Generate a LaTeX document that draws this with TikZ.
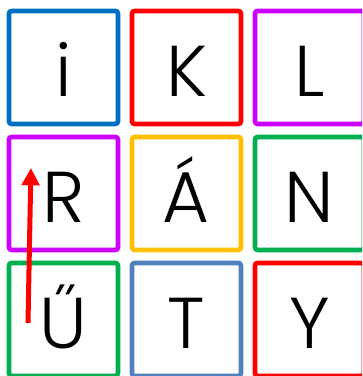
\documentclass[tikz,border=0pt]{standalone}
\usepackage{fontspec}
\setmainfont{Poppins Light}
\usetikzlibrary{arrows.meta, positioning}
\definecolor{kek}{RGB}{0, 112, 192}
\definecolor{piros}{RGB}{255, 0, 0}
\definecolor{lila}{RGB}{204, 0, 255}
\definecolor{sarga}{RGB}{255, 192, 0}
\definecolor{zold}{RGB}{0, 176, 80}
\definecolor{acel}{RGB}{79, 129, 189}

\begin{document}
\begin{tikzpicture}[
                node distance=9.75pt and 10.5pt,
                box/.style={draw=#1, line width=3.5pt, rounded corners=2pt, outer sep=0pt, minimum width=81.75pt, minimum height=84.75pt, text height=43.5pt, text depth=0pt, font=\fontsize{54}{60}\selectfont},
                arrow/.style={-{Triangle[length=13pt, width=13pt]}, line width=3.75pt, color=piros}
            ]
                \useasboundingbox (0,0) rectangle (271.5pt,282pt);
                \clip (0,0) rectangle (271.5pt,282pt);
                \node[box=kek] (i) at (47.6pt,231.4pt) {i};
                \node[box=piros] (k) [right=of i] {K};
                \node[box=lila] (l) [right=of k] {L};
                \node[box=lila] (r) [below=of i] {R};
                \node[box=sarga] (a) [right=of r] {Á};
                \node[box=zold] (n) [right=of a] {N};
                \node[box=zold] (u) [below=of r] {Ű};
                \node[box=acel] (t) [right=of u] {T};
                \node[box=piros] (y) [right=of t] {Y};
                
                \coordinate (tol) at ([shift={(-26.6pt,-2.6pt)}]u.center);
                \coordinate (ig) at ([shift={(-24.4pt,19.1pt)}]r.center);
                \draw[arrow] (tol) -- (ig);
            \end{tikzpicture}
\end{document}
